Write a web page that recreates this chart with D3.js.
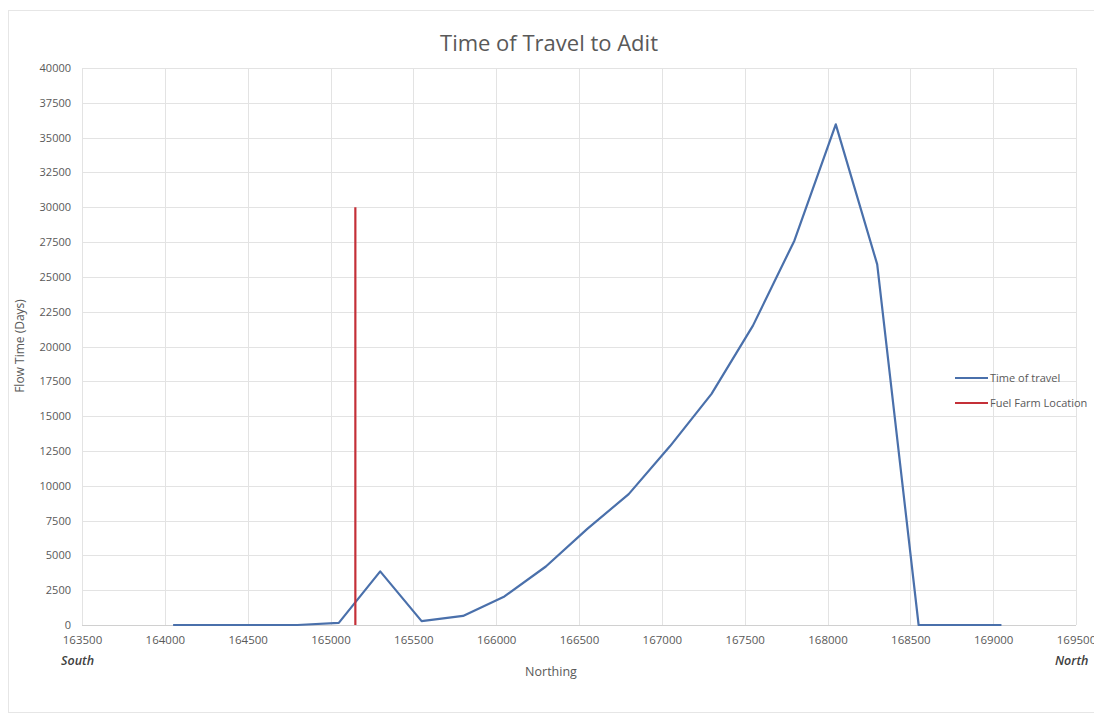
<!DOCTYPE html>
<html><head><meta charset="utf-8">
<script src="https://cdn.jsdelivr.net/npm/d3@7"></script>
<style>body{margin:0;background:#fff;} text{font-family:"Open Sans","Noto Sans",sans-serif;}</style>
</head><body><svg id="c" width="1094" height="719"></svg>
<script>
const northing = [164050,164300,164550,164800,165050,165300,165550,165800,166050,166300,166550,166800,167050,167300,167550,167800,168050,168300,168550,168800,169050];
const travelDays = [0,0,0,0,150,3850,280,650,2050,4200,6900,9400,12850,16600,21500,27600,35950,25900,0,0,0];
const fuelFarmX = [165150,165150];
const fuelFarmY = [0,30000];
const xTicks = [163500,164000,164500,165000,165500,166000,166500,167000,167500,168000,168500,169000,169500];
const yTicks = [0,2500,5000,7500,10000,12500,15000,17500,20000,22500,25000,27500,30000,32500,35000,37500,40000];
const legendLabels = ["Time of travel","Fuel Farm Location"];

const svg = d3.select("#c");
const L=82,R=1076,T=68,B=625;
const x = d3.scaleLinear().domain([163500,169500]).range([L,R]);
const y = d3.scaleLinear().domain([0,40000]).range([B,T]);

svg.append("rect").attr("x",8.5).attr("y",10.5).attr("width",1100).attr("height",702).attr("fill","none").attr("stroke","#e6e6e6");

const grid="#e3e3e3";
svg.append("g").selectAll("line").data(yTicks).join("line")
  .attr("x1",L).attr("x2",R).attr("y1",d=>Math.round(y(d))+0.5).attr("y2",d=>Math.round(y(d))+0.5)
  .attr("stroke",d=>d===0?"#d0d0d0":grid);
svg.append("g").selectAll("line").data(xTicks).join("line")
  .attr("y1",T).attr("y2",B).attr("x1",d=>Math.round(x(d))+0.5).attr("x2",d=>Math.round(x(d))+0.5)
  .attr("stroke",grid);

const yAxis = svg.append("g").attr("transform",`translate(${L},0)`)
  .call(d3.axisLeft(y).tickValues(yTicks).tickFormat(d3.format("d")).tickSize(0).tickPadding(11));
yAxis.select(".domain").remove();
yAxis.selectAll("text").attr("fill","#595959").style("font-size","11px");

const xAxis = svg.append("g").attr("transform",`translate(0,${B})`)
  .call(d3.axisBottom(x).tickValues(xTicks).tickFormat(d3.format("d")).tickSize(0).tickPadding(11));
xAxis.select(".domain").remove();
xAxis.selectAll("text").attr("fill","#595959").style("font-size","11.5px");

const line = d3.line().x(d=>x(d[0])).y(d=>y(d[1]));
svg.append("path").datum(northing.map((n,i)=>[n,travelDays[i]]))
  .attr("d",line).attr("fill","none").attr("stroke","#4a70ab").attr("stroke-width",2.2).attr("stroke-linejoin","round");
svg.append("path").datum(fuelFarmX.map((n,i)=>[n,fuelFarmY[i]]))
  .attr("d",line).attr("fill","none").attr("stroke","#c43038").attr("stroke-width",2.2);

svg.append("text").attr("x",549).attr("y",51).attr("text-anchor","middle").attr("fill","#595959")
  .style("font-size","22px").text("Time of Travel to Adit");
svg.append("text").attr("x",551).attr("y",676).attr("text-anchor","middle").attr("fill","#595959")
  .style("font-size","12.5px").text("Northing");
svg.append("text").attr("transform","translate(24,346) rotate(-90)").attr("text-anchor","middle").attr("fill","#595959")
  .style("font-size","12px").text("Flow Time (Days)");
svg.append("text").attr("x",61).attr("y",665).attr("fill","#404040").style("font-size","12.5px").style("font-style","italic").style("font-weight","600").text("South");
svg.append("text").attr("x",1055).attr("y",665).attr("fill","#404040").style("font-size","12.5px").style("font-style","italic").style("font-weight","600").text("North");

const colors=["#4a70ab","#c43038"];
const lg = svg.append("g");
legendLabels.forEach((t,i)=>{
  const yy = 378 + i*25;
  lg.append("line").attr("x1",955).attr("x2",988).attr("y1",yy).attr("y2",yy).attr("stroke",colors[i]).attr("stroke-width",2.2);
  lg.append("text").attr("x",990).attr("y",yy+4).attr("fill","#595959").style("font-size","11px").text(t);
});
</script></body></html>
